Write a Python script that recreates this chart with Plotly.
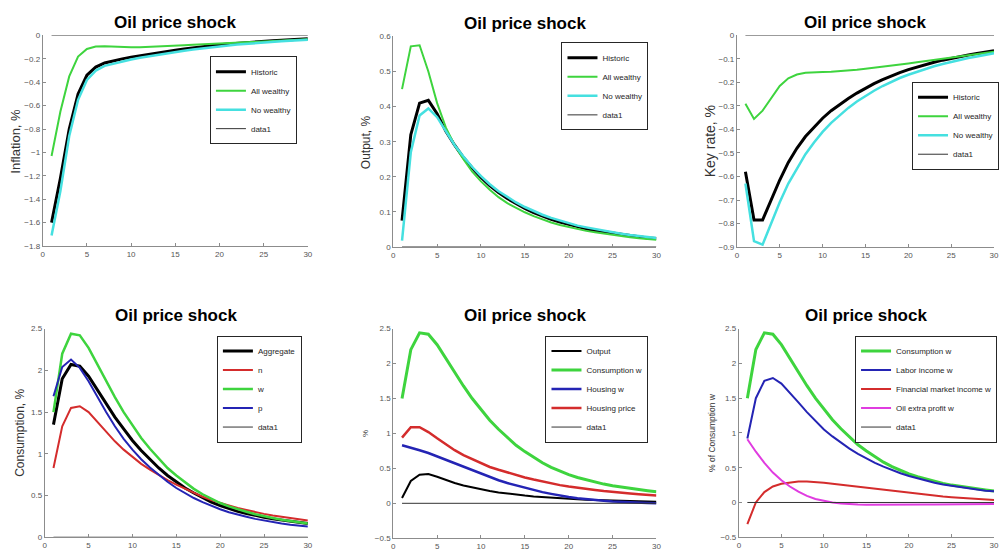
import plotly.graph_objects as go

# ---------------- data ----------------
x = list(range(1, 31))
zero = [0.0] * 30

# Panel 1: Inflation, %
infl_hist = [-1.60, -1.22, -0.80, -0.50, -0.34, -0.27, -0.235, -0.215, -0.20, -0.185,
             -0.172, -0.160, -0.148, -0.137, -0.126, -0.116, -0.106, -0.097, -0.088, -0.080,
             -0.073, -0.066, -0.060, -0.054, -0.049, -0.044, -0.040, -0.036, -0.032, -0.029]
infl_all = [-1.03, -0.65, -0.35, -0.18, -0.115, -0.095, -0.093, -0.097, -0.100, -0.101,
            -0.100, -0.098, -0.095, -0.092, -0.088, -0.084, -0.080, -0.076, -0.072, -0.068,
            -0.064, -0.060, -0.056, -0.052, -0.048, -0.045, -0.042, -0.039, -0.036, -0.033]
infl_no = [-1.71, -1.33, -0.86, -0.55, -0.38, -0.30, -0.26, -0.24, -0.222, -0.205,
           -0.190, -0.177, -0.164, -0.152, -0.141, -0.130, -0.120, -0.110, -0.101, -0.093,
           -0.085, -0.078, -0.071, -0.065, -0.059, -0.054, -0.049, -0.045, -0.041, -0.037]

# Panel 2: Output, %
out_hist = [0.075, 0.32, 0.41, 0.418, 0.38, 0.33, 0.29, 0.255, 0.225, 0.198,
            0.175, 0.155, 0.138, 0.123, 0.110, 0.098, 0.088, 0.079, 0.071, 0.064,
            0.058, 0.052, 0.047, 0.043, 0.039, 0.035, 0.032, 0.029, 0.026, 0.024]
out_all = [0.45, 0.572, 0.575, 0.50, 0.41, 0.34, 0.29, 0.25, 0.215, 0.187,
           0.163, 0.142, 0.125, 0.111, 0.099, 0.088, 0.078, 0.070, 0.063, 0.057,
           0.051, 0.046, 0.042, 0.038, 0.034, 0.031, 0.028, 0.025, 0.023, 0.021]
out_no = [0.018, 0.27, 0.375, 0.395, 0.37, 0.33, 0.29, 0.258, 0.228, 0.202,
          0.179, 0.159, 0.142, 0.127, 0.114, 0.102, 0.092, 0.083, 0.075, 0.068,
          0.061, 0.056, 0.051, 0.046, 0.042, 0.038, 0.034, 0.031, 0.028, 0.026]

# Panel 3: Key rate, %
key_hist = [-0.58, -0.785, -0.785, -0.70, -0.615, -0.54, -0.48, -0.43, -0.39, -0.352,
            -0.320, -0.293, -0.268, -0.245, -0.224, -0.205, -0.188, -0.172, -0.158, -0.145,
            -0.134, -0.124, -0.114, -0.105, -0.097, -0.090, -0.083, -0.077, -0.071, -0.065]
key_all = [-0.29, -0.355, -0.32, -0.27, -0.215, -0.182, -0.166, -0.159, -0.156, -0.155,
           -0.154, -0.152, -0.149, -0.146, -0.142, -0.138, -0.134, -0.129, -0.124, -0.119,
           -0.114, -0.109, -0.104, -0.099, -0.094, -0.089, -0.084, -0.079, -0.074, -0.069]
key_no = [-0.63, -0.875, -0.89, -0.80, -0.71, -0.63, -0.565, -0.505, -0.455, -0.41,
          -0.372, -0.338, -0.308, -0.281, -0.257, -0.235, -0.215, -0.197, -0.181, -0.167,
          -0.154, -0.142, -0.131, -0.121, -0.112, -0.104, -0.096, -0.089, -0.082, -0.076]

# Panel 4: Consumption, %
cons_agg = [1.35, 1.90, 2.07, 2.05, 1.93, 1.77, 1.60, 1.44, 1.30, 1.16,
            1.04, 0.93, 0.83, 0.74, 0.66, 0.59, 0.53, 0.47, 0.42, 0.38,
            0.345, 0.31, 0.285, 0.26, 0.24, 0.22, 0.205, 0.19, 0.175, 0.165]
cons_n = [0.83, 1.33, 1.55, 1.57, 1.50, 1.38, 1.26, 1.15, 1.05, 0.96,
          0.88, 0.81, 0.745, 0.685, 0.63, 0.58, 0.53, 0.485, 0.445, 0.41,
          0.38, 0.35, 0.325, 0.30, 0.28, 0.26, 0.245, 0.23, 0.215, 0.20]
cons_w = [1.50, 2.20, 2.44, 2.42, 2.27, 2.07, 1.87, 1.68, 1.50, 1.34,
          1.19, 1.06, 0.94, 0.83, 0.74, 0.655, 0.58, 0.515, 0.46, 0.41,
          0.37, 0.335, 0.305, 0.275, 0.25, 0.23, 0.21, 0.195, 0.18, 0.165]
cons_p = [1.69, 2.04, 2.13, 2.03, 1.87, 1.68, 1.50, 1.33, 1.18, 1.05,
          0.935, 0.835, 0.745, 0.665, 0.59, 0.525, 0.47, 0.42, 0.375, 0.335,
          0.30, 0.27, 0.245, 0.22, 0.20, 0.18, 0.165, 0.15, 0.14, 0.13]

# Panel 5: %
house_w = [0.83, 0.80, 0.76, 0.72, 0.67, 0.62, 0.57, 0.52, 0.47, 0.42,
           0.375, 0.33, 0.29, 0.255, 0.22, 0.19, 0.16, 0.135, 0.11, 0.09,
           0.073, 0.058, 0.045, 0.035, 0.026, 0.018, 0.012, 0.007, 0.003, 0.0]
house_p = [0.94, 1.09, 1.09, 1.02, 0.93, 0.84, 0.76, 0.69, 0.63, 0.57,
           0.52, 0.48, 0.44, 0.40, 0.37, 0.34, 0.31, 0.285, 0.26, 0.24,
           0.22, 0.205, 0.19, 0.175, 0.16, 0.15, 0.14, 0.13, 0.12, 0.11]

# Panel 6: % of Consumption w
labor_w = [0.92, 1.50, 1.75, 1.79, 1.71, 1.58, 1.44, 1.30, 1.17, 1.05,
           0.95, 0.86, 0.775, 0.70, 0.63, 0.57, 0.515, 0.465, 0.42, 0.38,
           0.345, 0.315, 0.285, 0.26, 0.24, 0.22, 0.20, 0.185, 0.17, 0.16]
fin_w = [-0.31, 0.0, 0.15, 0.23, 0.27, 0.29, 0.30, 0.30, 0.295, 0.285,
         0.27, 0.255, 0.24, 0.225, 0.21, 0.195, 0.18, 0.165, 0.15, 0.135,
         0.12, 0.107, 0.095, 0.085, 0.075, 0.066, 0.058, 0.05, 0.043, 0.037]
oil_w = [0.91, 0.73, 0.57, 0.43, 0.32, 0.23, 0.155, 0.095, 0.05, 0.02,
         0.0, -0.015, -0.025, -0.03, -0.032, -0.033, -0.033, -0.033, -0.032, -0.031,
         -0.03, -0.029, -0.028, -0.027, -0.026, -0.025, -0.024, -0.023, -0.022, -0.021]

title_text = "Oil price shock"

# ---------------- styling ----------------
W, H = 1008, 557
BLACK = "#000000"
GREEN = "#3ed43e"
CYAN = "#45e0e0"
RED = "#d42c2c"
BLUE = "#2424b4"
MAGENTA = "#e03ce0"
ZERO = "#333333"
FONT = "Liberation Sans"

def fx(p):
    return p / W

def fy(p):
    return 1 - p / H

panels = [
    dict(xd=(41, 308), yd=(32, 246), yr=[-1.8, 0], dt=0.2, ytitle="Inflation, %", ts=13, tx=14,
         leg=(297, 53),
         series=[("Historic", infl_hist, BLACK, 3), ("All wealthy", infl_all, GREEN, 2),
                 ("No wealthy", infl_no, CYAN, 2.5)]),
    dict(xd=(394, 659), yd=(33, 247), yr=[0, 0.6], dt=0.1, ytitle="Output, %", ts=12, tx=366,
         leg=(651, 39),
         series=[("Historic", out_hist, BLACK, 3), ("All wealthy", out_all, GREEN, 2),
                 ("No wealthy", out_no, CYAN, 2.5)]),
    dict(xd=(740, 999), yd=(32, 247), yr=[-0.9, 0], dt=0.1, ytitle="Key rate, %", ts=14, tx=713,
         leg=(1004, 79),
         series=[("Historic", key_hist, BLACK, 3), ("All wealthy", key_all, GREEN, 2),
                 ("No wealthy", key_no, CYAN, 2.5)]),
    dict(xd=(43, 308), yd=(330, 542), yr=[0, 2.5], dt=0.5, ytitle="Consumption, %", ts=12, tx=18,
         leg=(302, 337),
         series=[("Aggregate", cons_agg, BLACK, 3), ("n", cons_n, RED, 2),
                 ("w", cons_w, GREEN, 2.5), ("p", cons_p, BLUE, 2)]),
    dict(xd=(394, 659), yd=(330, 543), yr=[-0.5, 2.5], dt=0.5, ytitle="%", ts=8, tx=366,
         leg=(651, 337),
         series=[("Output", out_hist, BLACK, 2), ("Consumption w", cons_w, GREEN, 3),
                 ("Housing w", house_w, BLUE, 2.5), ("Housing price", house_p, RED, 2.5)]),
    dict(xd=(742, 999), yd=(330, 542), yr=[-0.5, 2.5], dt=0.5, ytitle="% of Consumption w", ts=8.5, tx=715,
         leg=(1002, 337),
         series=[("Consumption w", cons_w, GREEN, 3), ("Labor income w", labor_w, BLUE, 2),
                 ("Financial market income w", fin_w, RED, 2), ("Oil extra profit w", oil_w, MAGENTA, 2)]),
]

fig = go.Figure()
layout = dict(
    width=W, height=H, margin=dict(l=0, r=0, t=0, b=0),
    paper_bgcolor="white", plot_bgcolor="white",
    font=dict(family=FONT, color="#4d4d4d"),
    showlegend=True,
)
annotations = []

for i, p in enumerate(panels, start=1):
    sfx = "" if i == 1 else str(i)
    xa, ya = "x" + sfx, "y" + sfx
    lg = "legend" + sfx
    for name, vals, col, wid in p["series"]:
        fig.add_trace(go.Scatter(x=x, y=vals, mode="lines", name=name,
                                 line=dict(color=col, width=wid),
                                 xaxis=xa, yaxis=ya, legend=lg))
    fig.add_trace(go.Scatter(x=x, y=zero, mode="lines", name="data1",
                             line=dict(color=ZERO, width=1),
                             xaxis=xa, yaxis=ya, legend=lg))
    axcommon = dict(showgrid=False, zeroline=False, showline=True, linecolor="#8c8c8c",
                    linewidth=1, ticks="inside", ticklen=3, tickcolor="#8c8c8c",
                    tickfont=dict(size=8, color="#555555", family=FONT))
    layout["xaxis" + sfx] = dict(axcommon, domain=[fx(p["xd"][0]), fx(p["xd"][1])],
                                  range=[0, 30], dtick=5, tick0=0, anchor=ya)
    layout["yaxis" + sfx] = dict(axcommon, domain=[fy(p["yd"][1]), fy(p["yd"][0])],
                                  range=p["yr"], dtick=p["dt"], tick0=0, anchor=xa)
    layout[lg] = dict(x=fx(p["leg"][0]), y=fy(p["leg"][1]), xanchor="right", yanchor="top",
                      xref="paper", yref="paper",
                      bgcolor="white", bordercolor="#262626", borderwidth=1,
                      font=dict(size=8, family=FONT, color="#262626"),
                      tracegroupgap=0, itemwidth=30)
    xc = (p["xd"][0] + p["xd"][1]) / 2
    ytop = p["yd"][0]
    annotations.append(dict(text="<b>" + title_text + "</b>", x=fx(xc), y=fy(ytop - 13),
                            xref="paper", yref="paper", showarrow=False,
                            xanchor="center", yanchor="middle",
                            font=dict(size=17, family=FONT, color="#000000")))
    ym = (p["yd"][0] + p["yd"][1]) / 2
    annotations.append(dict(text=p["ytitle"], x=fx(p["tx"]), y=fy(ym), xref="paper", yref="paper",
                            showarrow=False, textangle=-90, xanchor="center", yanchor="middle",
                            font=dict(size=p["ts"], family=FONT, color="#333333")))

layout["annotations"] = annotations
fig.update_layout(**layout)
fig.write_html("out.html",
               config={"displayModeBar": False},
               post_script="document.body.style.margin='0';document.body.style.overflow='hidden';")
